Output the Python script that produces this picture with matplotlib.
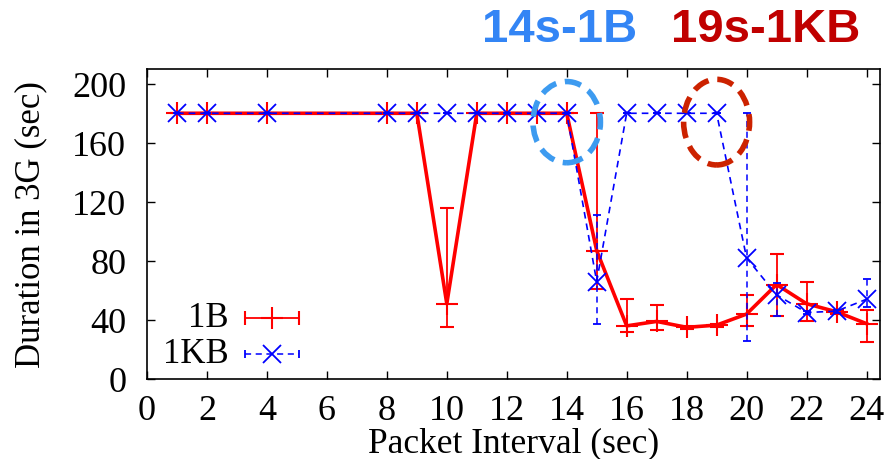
import matplotlib.pyplot as plt
from matplotlib.patches import Ellipse

interval = [1, 2, 4, 8, 9, 10, 11, 12, 13, 14, 15, 16, 17, 18, 19, 20, 21, 22, 23, 24]

dur_1b = [180, 180, 180, 180, 180, 51, 180, 180, 180, 180,
          87, 36, 39, 35, 36.5, 44, 64, 51, 45.5, 37.5]
lo_1b = [180, 180, 180, 180, 180, 35, 180, 180, 180, 180,
         61, 32, 33, 34, 35.5, 36, 43, 39, 44, 25]
hi_1b = [180, 180, 180, 180, 180, 116, 180, 180, 180, 180,
         180, 54, 50, 36, 37.5, 57, 85, 66, 47, 47]

dur_1kb = [180, 180, 180, 180, 180, 180, 180, 180, 180, 180,
           66, 180, 180, 180, 180, 82, 57, 45, 46, 54]
lo_1kb = [180, 180, 180, 180, 180, 180, 180, 180, 180, 180,
          37, 180, 180, 180, 180, 26, 43, 44, 45, 49]
hi_1kb = [180, 180, 180, 180, 180, 180, 180, 180, 180, 180,
          111, 180, 180, 180, 180, 180, 65, 46, 47, 68]

plt.rcParams['font.family'] = ['Liberation Serif', 'DejaVu Serif']

fig = plt.figure(figsize=(8.93, 4.6), dpi=100)
ax = fig.add_axes([147 / 893, 80 / 460, 733 / 893, 310 / 460])

err_1b = [[m - l for m, l in zip(dur_1b, lo_1b)], [h - m for m, h in zip(dur_1b, hi_1b)]]
err_1kb = [[m - l for m, l in zip(dur_1kb, lo_1kb)], [h - m for m, h in zip(dur_1kb, hi_1kb)]]

red_style = dict(color='#ff0000', lw=2.6, marker='+', ms=16, mew=1.5,
                 elinewidth=1.3, capsize=5, capthick=1.3)
blue_style = dict(color='#0000ff', lw=1.2, ls=(0, (4, 3)), marker='x', ms=13,
                  mew=1.3, elinewidth=1.1, capsize=3, capthick=1.1)

ax.errorbar(interval, dur_1b, yerr=err_1b, zorder=3, **red_style)
eb = ax.errorbar(interval, dur_1kb, yerr=err_1kb, zorder=4, **blue_style)
eb[2][0].set_linestyle((0, (4, 3)))

# highlight circles
ax.add_patch(Ellipse((14.0, 174), 2.25, 55, fill=False, ec='#3d9bf0', lw=4,
                     ls=(0, (3, 1.6)), zorder=5, clip_on=False))
ax.add_patch(Ellipse((19.0, 174), 2.2, 58, fill=False, ec='#cc2200', lw=4,
                     ls=(0, (3, 1.6)), zorder=5, clip_on=False))

fig.text(560 / 893, 1 - 30 / 460, '14s-1B', color='#3385f5', fontsize=34,
         fontweight='bold', family='Liberation Sans', ha='center', va='center')
fig.text(766 / 893, 1 - 30 / 460, '19s-1KB', color='#c00000', fontsize=34,
         fontweight='bold', family='Liberation Sans', ha='center', va='center')

# gnuplot-style key: label on the left, sample with end bars on the right
key_y = [0.197, 0.081]
key_lbl = ['1B', '1KB']
key_sty = [red_style, blue_style]
for y, lbl, sty in zip(key_y, key_lbl, key_sty):
    s = dict(sty)
    s['lw'] = 1.3
    k = ax.errorbar([0.171], [y], xerr=[0.037], transform=ax.transAxes,
                    clip_on=False, zorder=6, **s)
    if lbl == '1KB':
        k[2][0].set_linestyle((0, (4, 3)))
    ax.text(0.112, y, lbl, transform=ax.transAxes, ha='right', va='center',
            fontsize=25)

ax.set_xlim(0, 24.45)
ax.set_ylim(0, 210)
ax.set_xticks(range(0, 25, 2))
ax.set_yticks(range(0, 201, 40))
ax.tick_params(direction='in', top=True, right=True, length=6, width=1,
               labelsize=26)
ax.tick_params(axis='x', pad=11)
ax.tick_params(axis='y', pad=15)
for s in ax.spines.values():
    s.set_linewidth(1.2)

ax.set_xlabel('Packet Interval (sec)', fontsize=25.5, labelpad=-1)
ax.set_ylabel('Duration in 3G (sec)', fontsize=25, labelpad=18)

fig.savefig('out.png', dpi=100)
